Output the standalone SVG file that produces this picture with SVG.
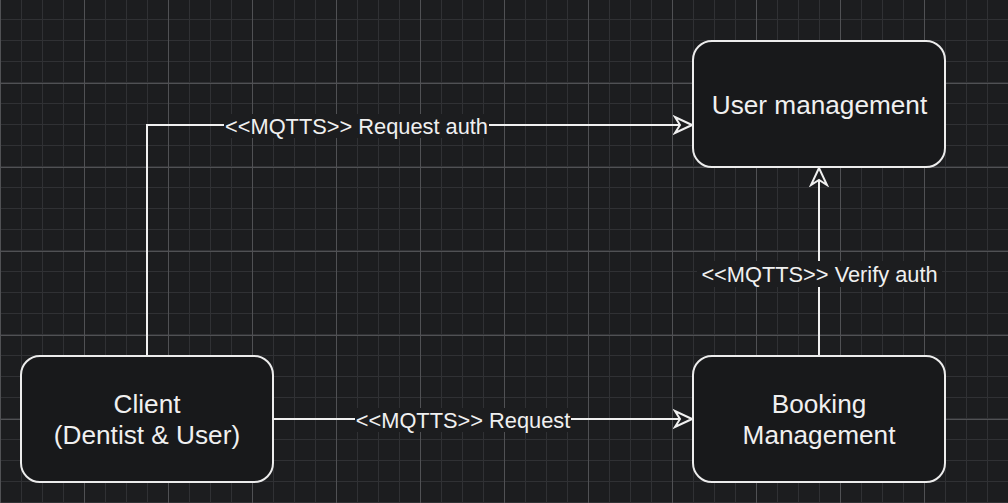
<svg xmlns="http://www.w3.org/2000/svg" width="1008" height="503" viewBox="0 0 1008 503">
  <defs>
    <pattern id="minor" x="0" y="-1" width="21" height="21" patternUnits="userSpaceOnUse">
      <path d="M0.5 0 V21 M0 0.5 H21" stroke="#303134" stroke-width="1" fill="none"/>
    </pattern>
    <pattern id="major" x="0" y="-1" width="84" height="84" patternUnits="userSpaceOnUse">
      <rect width="84" height="84" fill="url(#minor)"/>
      <path d="M0.5 0 V84 M0 0.5 H84" stroke="#505154" stroke-width="1" fill="none"/>
    </pattern>
    <marker id="arrow" viewBox="0 0 20 20" refX="19" refY="10" markerWidth="20" markerHeight="20" markerUnits="userSpaceOnUse" orient="auto">
      <path d="M19 10 L2 2 L7 10 L2 18 Z" fill="#1c1d1f" stroke="#f0f0f0" stroke-width="2" stroke-linejoin="miter"/>
    </marker>
    <style>
      .node rect { fill: #18191b; stroke: #ececec; stroke-width: 2; }
      .node text { font-family: "Liberation Sans", Arial, sans-serif; font-size: 26.2px; fill: #f0f0f0; text-anchor: middle; }
      .edge { fill: none; stroke: #f0f0f0; stroke-width: 2; }
      .lbl-bg { fill: #1c1d1f; }
      .lbl { font-family: "Liberation Sans", Arial, sans-serif; font-size: 21.8px; fill: #f0f0f0; text-anchor: middle; }
    </style>
  </defs>
  <rect width="1008" height="503" fill="#1c1d1f"/>
  <rect width="1008" height="503" fill="url(#major)"/>

  <g id="connectors">
    <path class="edge" d="M147 356 V125 H692" marker-end="url(#arrow)"/>
    <path class="edge" d="M273 419 H692" marker-end="url(#arrow)"/>
    <path class="edge" d="M819 356 V168" marker-end="url(#arrow)"/>
    <rect class="lbl-bg" x="224" y="114" width="265" height="24"/>
    <text class="lbl" x="356.5" y="134">&lt;&lt;MQTTS&gt;&gt; Request auth</text>
    <rect class="lbl-bg" x="355" y="408" width="216" height="24"/>
    <text class="lbl" x="463" y="428">&lt;&lt;MQTTS&gt;&gt; Request</text>
    <rect class="lbl-bg" x="697" y="261" width="245" height="26"/>
    <text class="lbl" x="819.5" y="281.5">&lt;&lt;MQTTS&gt;&gt; Verify auth</text>
  </g>

  <g id="user-management" class="node">
    <rect x="693" y="41" width="252" height="126" rx="19" ry="19"/>
    <text x="819.5" y="113.5">User management</text>
  </g>
  <g id="client" class="node">
    <rect x="21" y="356" width="252" height="126" rx="19" ry="19"/>
    <text x="147" y="412.5">Client</text>
    <text x="147" y="444">(Dentist &amp; User)</text>
  </g>
  <g id="booking-management" class="node">
    <rect x="693" y="356" width="252" height="126" rx="19" ry="19"/>
    <text x="819" y="412.5">Booking</text>
    <text x="819" y="444">Management</text>
  </g>
</svg>
